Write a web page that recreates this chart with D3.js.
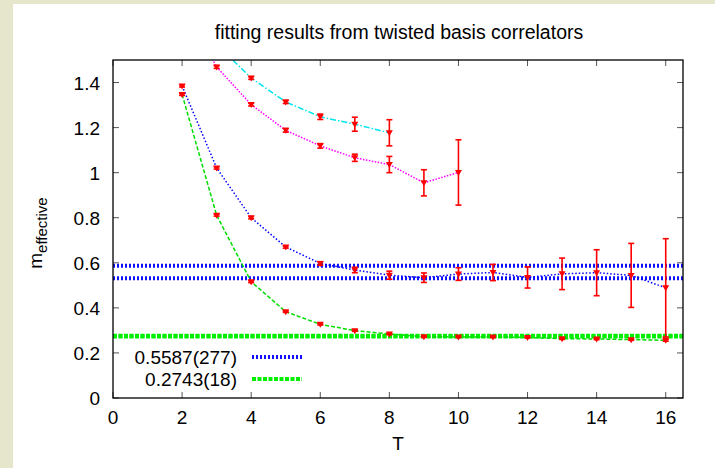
<!DOCTYPE html>
<html><head><meta charset="utf-8">
<script src="https://cdn.jsdelivr.net/npm/d3@7"></script>
<style>
html,body{margin:0;padding:0;background:#e6e6cc;}
svg{display:block;}
text{font-family:"Liberation Sans",Arial,sans-serif;fill:#000;}
</style></head>
<body>
<svg id="c" width="715" height="468"></svg>
<script>
// ---- data ----
const T = [2,3,4,5,6,7,8,9,10,11,12,13,14,15,16];
const blueVals  = [1.385,1.021,0.800,0.670,0.597,0.568,0.545,0.534,0.550,0.557,0.535,0.551,0.556,0.544,0.489];
const blueErr   = [0.005,0.005,0.005,0.005,0.008,0.012,0.018,0.021,0.028,0.036,0.047,0.070,0.102,0.142,0.218];
const greenVals = [1.347,0.811,0.516,0.383,0.327,0.299,0.284,0.272,0.271,0.271,0.269,0.263,0.262,0.259,0.256];
const greenErr  = [0.004,0.004,0.004,0.003,0.003,0.003,0.003,0.003,0.003,0.003,0.003,0.003,0.003,0.003,0.004];
const magT      = [2,3,4,5,6,7,8,9,10];
const magVals   = [1.75,1.469,1.302,1.188,1.119,1.066,1.036,0.955,1.001];
const magErr    = [0.01,0.006,0.006,0.008,0.010,0.016,0.036,0.058,0.145];
const cyanT     = [3,4,5,6,7,8];
const cyanVals  = [1.57,1.420,1.314,1.248,1.215,1.177];
const cyanErr   = [0.01,0.006,0.007,0.012,0.031,0.058];
const fitBlue   = {label:"0.5587(277)", center:0.5587, err:0.0277};
const fitGreen  = {label:"0.2743(18)",  center:0.2743, err:0.0018};
const xTicks = [0,2,4,6,8,10,12,14,16];
const yTicks = [0,0.2,0.4,0.6,0.8,1,1.2,1.4];
const title = "fitting results from twisted basis correlators";

// ---- layout ----
const svg = d3.select("#c");
svg.append("rect").attr("x",13).attr("y",4).attr("width",702).attr("height",464).attr("fill","#fff");
const L=113, R=683, Tp=60, B=398;
const x = d3.scaleLinear().domain([0,16.5]).range([L,R]);
const y = d3.scaleLinear().domain([0,1.5]).range([B,Tp]);
const FS = "19px";

svg.append("defs").append("clipPath").attr("id","clip")
  .append("rect").attr("x",L).attr("y",Tp).attr("width",R-L).attr("height",B-Tp);

// title
svg.append("text").attr("x",(L+R)/2+1).attr("y",39).attr("text-anchor","middle")
  .style("font-size","19.5px").text(title);

// ticks (inward, mirrored)
const tickCol="#555";
const g = svg.append("g");
xTicks.forEach(t=>{
  g.append("line").attr("x1",x(t)).attr("x2",x(t)).attr("y1",B).attr("y2",B-6).attr("stroke",tickCol);
  g.append("line").attr("x1",x(t)).attr("x2",x(t)).attr("y1",Tp).attr("y2",Tp+6).attr("stroke",tickCol);
  svg.append("text").attr("x",x(t)).attr("y",B+26).attr("text-anchor","middle").style("font-size",FS).text(d3.format("~g")(t));
});
yTicks.forEach(t=>{
  g.append("line").attr("x1",L).attr("x2",L+6).attr("y1",y(t)).attr("y2",y(t)).attr("stroke",tickCol);
  g.append("line").attr("x1",R).attr("x2",R-6).attr("y1",y(t)).attr("y2",y(t)).attr("stroke",tickCol);
  svg.append("text").attr("x",L-13).attr("y",y(t)+7).attr("text-anchor","end").style("font-size",FS).text(d3.format("~g")(t));
});

// axis labels
svg.append("text").attr("x",(L+R)/2).attr("y",450).attr("text-anchor","middle").style("font-size",FS).text("T");
const yl = svg.append("text").attr("transform","translate(42,233) rotate(-90)").attr("text-anchor","middle").style("font-size",FS);
yl.append("tspan").text("m");
yl.append("tspan").attr("dy",5).style("font-size","15px").text("effective");

const plot = svg.append("g").attr("clip-path","url(#clip)");

// fit bands
function fitLines(f,color,dash,w){
  [f.center+f.err, f.center-f.err].forEach(v=>{
    plot.append("line").attr("x1",L).attr("x2",R).attr("y1",y(v)).attr("y2",y(v))
      .attr("stroke",color).attr("stroke-width",w).attr("stroke-dasharray",dash);
  });
}
fitLines(fitBlue,"#1010ff","2,2",4);
fitLines(fitGreen,"#00ee00","4,1.5",4);

// series lines
const line = d3.line().x(d=>x(d[0])).y(d=>y(d[1]));
function series(ts,vals,color,dash){
  plot.append("path").datum(ts.map((t,i)=>[t,vals[i]])).attr("d",line)
    .attr("fill","none").attr("stroke",color).attr("stroke-width",1.5).attr("stroke-dasharray",dash);
}
series(cyanT,cyanVals,"#00e5ee","6,2,1.5,2");
series(magT,magVals,"#ff00ff","1.5,1.5");
series(T,blueVals,"#0000ff","1.5,2");
series(T,greenVals,"#00dd00","4,2");

// error bars + points
function errs(ts,vals,es){
  ts.forEach((t,i)=>{
    const cx=x(t), y1=y(vals[i]+es[i]), y2=y(vals[i]-es[i]), cy=y(vals[i]);
    const eg = plot.append("g").attr("stroke","#ff0000").attr("stroke-width",1.6);
    eg.append("line").attr("x1",cx).attr("x2",cx).attr("y1",y1).attr("y2",y2);
    eg.append("line").attr("x1",cx-3).attr("x2",cx+3).attr("y1",y1).attr("y2",y1);
    eg.append("line").attr("x1",cx-3).attr("x2",cx+3).attr("y1",y2).attr("y2",y2);
    plot.append("path").attr("d",`M${cx-3.5},${cy-2.5}L${cx+3.5},${cy-2.5}L${cx},${cy+3.5}Z`).attr("fill","#ff0000");
  });
}
errs(cyanT,cyanVals,cyanErr);
errs(magT,magVals,magErr);
errs(T,blueVals,blueErr);
errs(T,greenVals,greenErr);

// border
svg.append("rect").attr("x",L).attr("y",Tp).attr("width",R-L).attr("height",B-Tp)
  .attr("fill","none").attr("stroke","#000").attr("stroke-width",1.3);

// legend
const leg=[[fitBlue,"#1010ff","2,2",357],[fitGreen,"#00ee00","4,1.5",379]];
leg.forEach(([f,c,d,ly])=>{
  svg.append("text").attr("x",237).attr("y",ly+7).attr("text-anchor","end").style("font-size",FS).text(f.label);
  svg.append("line").attr("x1",252).attr("x2",302).attr("y1",ly).attr("y2",ly)
    .attr("stroke",c).attr("stroke-width",4).attr("stroke-dasharray",d);
});
</script>
</body></html>
